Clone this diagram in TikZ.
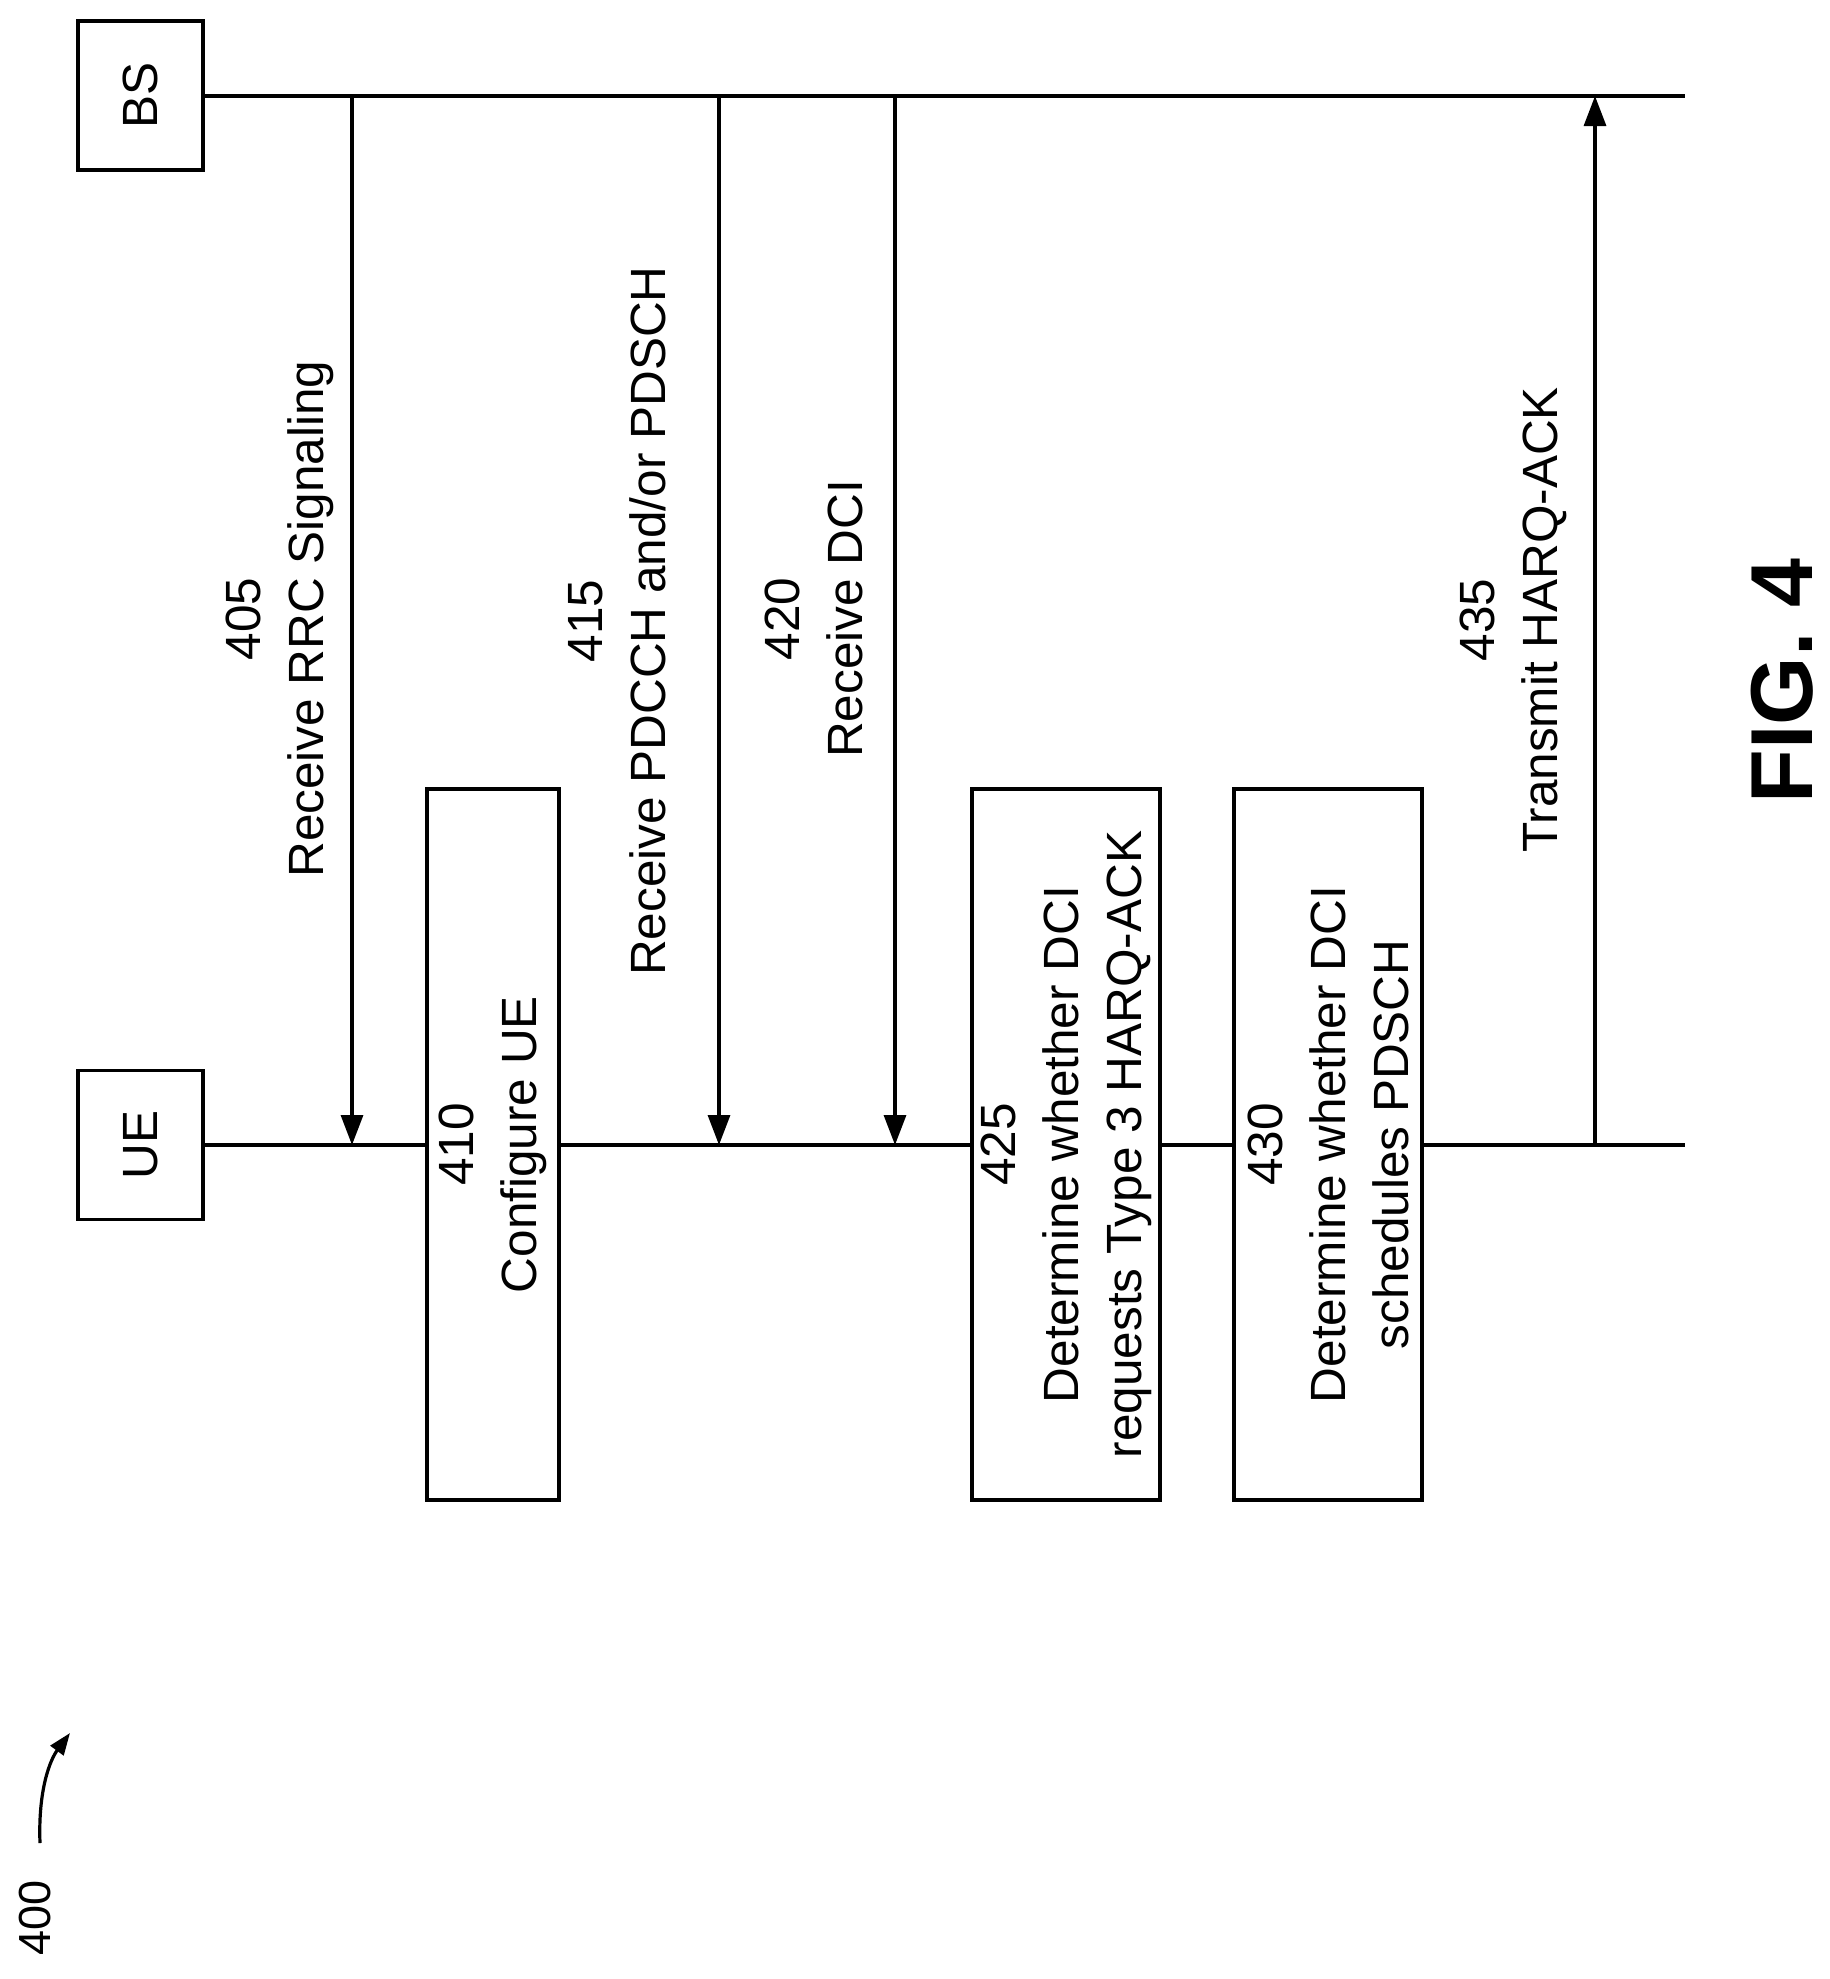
\documentclass[tikz,border=0pt]{standalone}
\usepackage{fontspec}
\setmainfont{Liberation Sans}
\usetikzlibrary{arrows.meta}
\begin{document}
\begin{tikzpicture}[x=1pt,y=-1pt,line width=3.2pt,
  ent/.style={draw,minimum width=125pt,minimum height=149pt,inner sep=0pt},
  act/.style={draw,inner sep=0pt},
  lab/.style={rotate=90,align=center,font=\fontsize{49.5}{63}\selectfont},
  msg/.style={-{Triangle[length=30pt,width=22pt]}}]
\useasboundingbox (0,0) rectangle (1830,1979);
\node[ent,label={[rotate=90,font=\fontsize{49.5}{60}\selectfont]center:BS}] (bs) at (140.5,95.5) {};
\node[ent,label={[rotate=90,font=\fontsize{49.5}{60}\selectfont]center:UE}] (ue) at (140.5,1145) {};
\coordinate (bsE) at (1685,96);
\coordinate (ueE) at (1685,1145);
\draw (bs.east|-bsE) -- (bsE);
\node[act,minimum width=132pt,minimum height=711pt] (b410) at (493,1144.5) {};
\node[act,minimum width=188pt,minimum height=711pt] (b425) at (1066,1144.5) {};
\node[act,minimum width=188pt,minimum height=711pt] (b430) at (1328,1144.5) {};
\draw (ue.east|-ueE) -- (b410.west|-ueE);
\draw (b410.east|-ueE) -- (b425.west|-ueE);
\draw (b425.east|-ueE) -- (b430.west|-ueE);
\draw (b430.east|-ueE) -- (ueE);
\node[lab] at (b410) {410\\Configure UE};
\node[lab] at (b425) {425\\Determine whether DCI\\requests Type 3 HARQ-ACK};
\node[lab] at (b430) {430\\Determine whether DCI\\schedules PDSCH};
\coordinate (a1) at (352,96); \coordinate (a1e) at (352,1145);
\coordinate (a2) at (719,96); \coordinate (a2e) at (719,1145);
\coordinate (a3) at (895,96); \coordinate (a3e) at (895,1145);
\coordinate (a4) at (1595,1145); \coordinate (a4e) at (1595,96);
\draw[msg] (a1) -- (a1e);
\draw[msg] (a2) -- (a2e);
\draw[msg] (a3) -- (a3e);
\draw[msg] (a4) -- (a4e);
\node[lab] (l405) at (280,619) {405\\Receive RRC Signaling};
\node[lab] (l415) at (617,621) {415\\Receive PDCCH and/or PDSCH};
\node[lab] (l420) at (814,619) {420\\Receive DCI};
\node[lab] (l435) at (1513,620) {435\\Transmit HARQ-ACK};
\node[rotate=90,font=\fontsize{88}{92}\selectfont\bfseries] (fig) at (1782,681) {FIG. 4};
\node[rotate=90,font=\fontsize{45}{50}\selectfont] (n400) at (35,1918) {400};
\coordinate (c1) at (40,1843);
\coordinate (c2) at (70,1733);
\draw[-{Triangle[length=22pt,width=16pt]}] (c1) .. controls (38,1790) and (50,1760) .. (c2);
\end{tikzpicture}
\end{document}
